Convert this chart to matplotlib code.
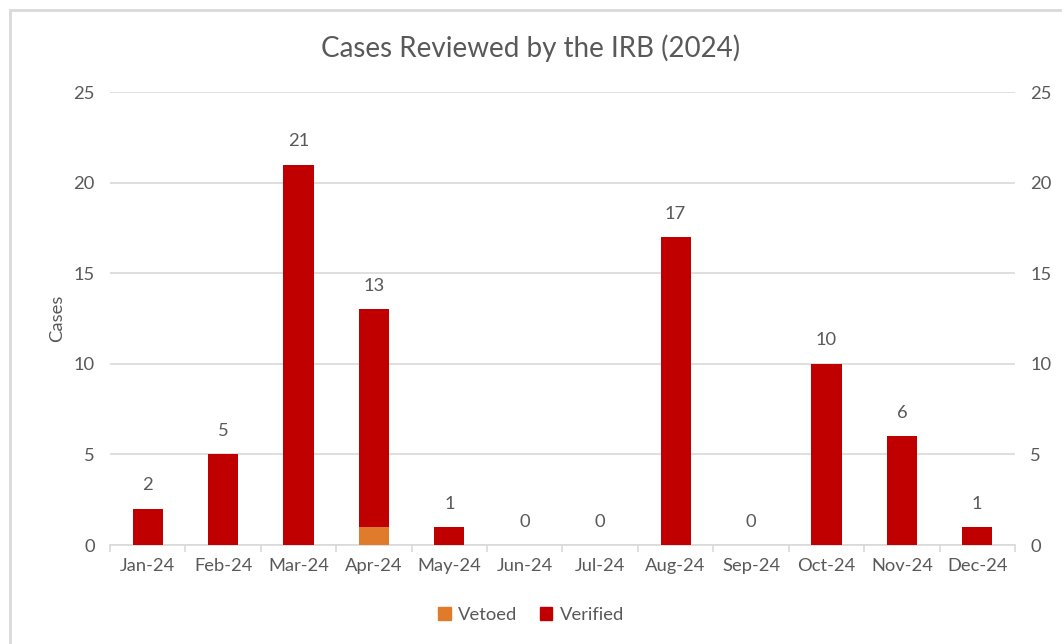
import matplotlib.pyplot as plt
import matplotlib.patches as mpatches
import numpy as np

months = ["Jan-24", "Feb-24", "Mar-24", "Apr-24", "May-24", "Jun-24",
          "Jul-24", "Aug-24", "Sep-24", "Oct-24", "Nov-24", "Dec-24"]
vetoed = [0, 0, 0, 1, 0, 0, 0, 0, 0, 0, 0, 0]
verified = [2, 5, 21, 12, 1, 0, 0, 17, 0, 10, 6, 1]
yticks = [0, 5, 10, 15, 20, 25]

TXT = "#595959"
GRID = "#d9d9d9"
FS = 13.2
plt.rcParams.update({"font.family": ["Lato", "DejaVu Sans"]})

fig = plt.figure(figsize=(10.62, 6.44), dpi=100)
ax = fig.add_axes([0.1036, 0.1537, 0.8521, 0.7033])

x = np.arange(len(months))
ax.bar(x, vetoed, width=0.4, color="#e07b2c", label="Vetoed", zorder=3)
ax.bar(x, verified, width=0.4, bottom=vetoed, color="#c00000",
       label="Verified", zorder=3)

totals = [a + b for a, b in zip(vetoed, verified)]
for xi, t in zip(x, totals):
    ax.text(xi, t + 0.85, str(t), ha="center", va="bottom",
            fontsize=FS, color=TXT)

ax.set_xlim(-0.5, len(months) - 0.5)
ax.set_ylim(0, 25)
ax.set_yticks(yticks)
ax.yaxis.grid(True, color=GRID, linewidth=1.2, zorder=0)
ax.set_axisbelow(True)
for s in ["top", "right", "left"]:
    ax.spines[s].set_visible(False)
ax.spines["bottom"].set_color(GRID)
ax.spines["bottom"].set_linewidth(1.2)

ax.set_xticks(x)
ax.set_xticklabels(months)
ax.set_xticks(np.arange(-0.5, len(months)), minor=True)
ax.tick_params(axis="x", which="major", length=0, pad=9,
               labelsize=FS, labelcolor=TXT)
ax.tick_params(axis="x", which="minor", length=5, width=1.2, color=GRID)
ax.tick_params(axis="y", length=0, pad=11, labelsize=FS, labelcolor=TXT)
ax.set_ylabel("Cases", fontsize=FS, color=TXT, labelpad=6)

ax2 = ax.twinx()
ax2.set_ylim(0, 25)
ax2.set_yticks(yticks)
for s in ax2.spines.values():
    s.set_visible(False)
ax2.tick_params(axis="y", length=0, pad=11, labelsize=FS, labelcolor=TXT)

fig.suptitle("Cases Reviewed by the IRB (2024)", y=0.947, fontsize=20,
             color=TXT)

handles = [mpatches.Patch(color="#e07b2c", label="Vetoed"),
           mpatches.Patch(color="#c00000", label="Verified")]
fig.legend(handles=handles, loc="center", bbox_to_anchor=(0.5, 0.045),
           ncol=2, frameon=False, fontsize=FS, labelcolor=TXT,
           handlelength=0.7, handleheight=0.7, handletextpad=0.4,
           columnspacing=1.2)

# chart frame
frame = mpatches.Rectangle((10 / 1062, -0.1), 1.2, (1 - 10 / 644) + 0.1,
                           transform=fig.transFigure, fill=False,
                           edgecolor=GRID, linewidth=2)
fig.patches.append(frame)

fig.savefig("out.png", dpi=100)
